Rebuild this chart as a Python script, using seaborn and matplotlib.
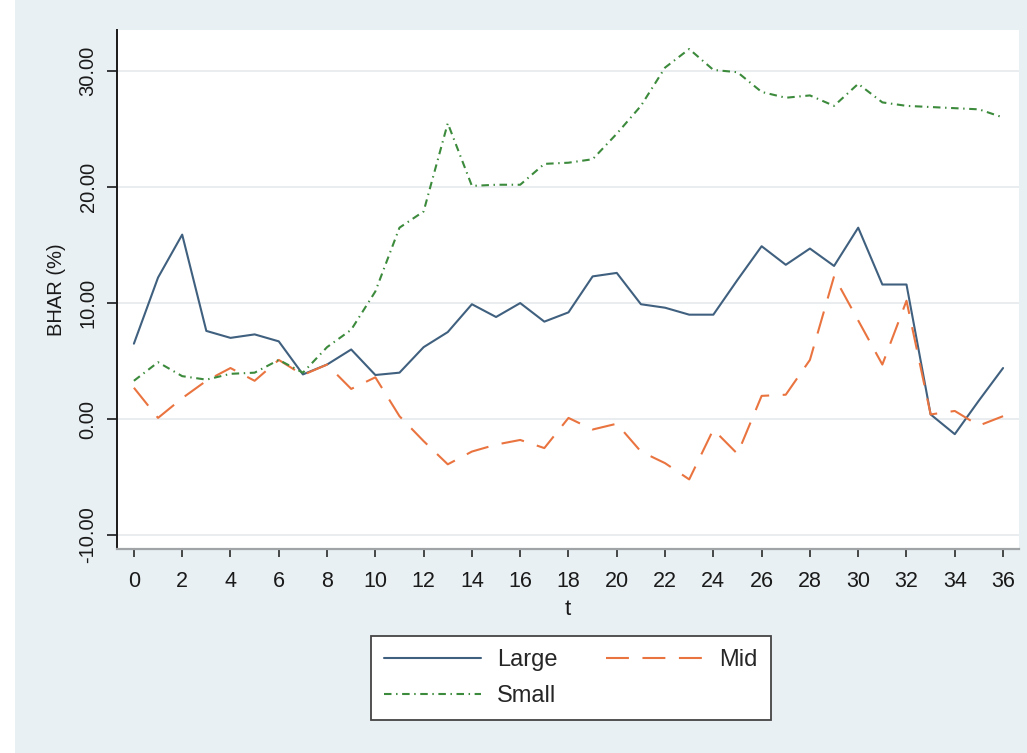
import numpy as np
import pandas as pd
import matplotlib
matplotlib.use("Agg")
import matplotlib.pyplot as plt
from matplotlib.patches import Rectangle
import seaborn as sns

# Event month
t = list(range(37))

# Buy-and-hold abnormal returns (%) by size group
large = [6.5, 12.2, 15.9, 7.6, 7.0, 7.3, 6.7, 3.85, 4.7, 6.0, 3.8, 4.0, 6.2,
         7.5, 9.9, 8.8, 10.0, 8.4, 9.2, 12.3, 12.6, 9.9, 9.6, 9.0, 9.0, 12.0,
         14.9, 13.3, 14.7, 13.2, 16.5, 11.6, 11.6, 0.4, -1.3, 1.6, 4.4]
mid = [2.7, 0.1, 1.8, 3.3, 4.4, 3.3, 5.1, 3.8, 4.7, 2.6, 3.6, 0.25, -1.9,
       -3.9, -2.8, -2.2, -1.8, -2.5, 0.1, -0.9, -0.4, -2.8, -3.8, -5.2, -0.9,
       -3.0, 2.0, 2.1, 5.1, 12.3, 8.5, 4.7, 10.2, 0.4, 0.7, -0.56, 0.25]
small = [3.3, 4.9, 3.7, 3.4, 3.9, 4.0, 5.1, 4.0, 6.2, 7.7, 11.0, 16.5, 17.9,
         25.5, 20.1, 20.2, 20.2, 22.0, 22.1, 22.4, 24.6, 27.0, 30.3, 31.9,
         30.1, 29.9, 28.2, 27.7, 27.9, 27.0, 28.9, 27.3, 27.0, 26.9, 26.8,
         26.7, 26.0]

groups = ["Large", "Mid", "Small"]
x_ticks = list(range(0, 37, 2))
y_ticks = [-10, 0, 10, 20, 30]

df = pd.DataFrame({
    "t": t * 3,
    "BHAR": large + mid + small,
    "group": ["Large"] * len(t) + ["Mid"] * len(t) + ["Small"] * len(t),
})

sns.set_style("white")
plt.rcParams["font.family"] = ["Liberation Sans", "DejaVu Sans"]

bg = "#e9f0f3"
ink = "#1a1a1a"
fig = plt.figure(figsize=(10.27, 7.53), dpi=100, facecolor="white")
fig.patches.append(Rectangle((15 / 1027, 0), 1, 1, transform=fig.transFigure,
                             facecolor=bg, edgecolor="none", zorder=-10))

ax = fig.add_axes([117 / 1027, 1 - 549 / 753, 902 / 1027, 519 / 753])
ax.set_facecolor("white")

palette = {"Large": "#40607f", "Mid": "#ea7440", "Small": "#3c8a3c"}
dashes = {"Large": "", "Mid": (11, 6.5), "Small": (3.6, 2.2, 0.7, 2.2)}
lw = 1.5

sns.lineplot(data=df, x="t", y="BHAR", hue="group", style="group",
             hue_order=groups, style_order=groups, palette=palette,
             dashes=dashes, linewidth=lw, ax=ax, legend=True)

ax.set_xlim(-0.70, 36.66)
ax.set_ylim(-11.2, 33.54)
ax.set_xticks(x_ticks)
ax.set_xticklabels([str(v) for v in x_ticks], fontsize=15.5)
ax.set_yticks(y_ticks)
ax.set_yticklabels([f"{v:.2f}" for v in y_ticks], fontsize=14.5,
                   rotation=90, va="center")

ax.grid(axis="y", color="#e6eaec", linewidth=1.2)
ax.grid(axis="x", visible=False)
for side in ("top", "right"):
    ax.spines[side].set_visible(False)
ax.spines["left"].set_color(ink)
ax.spines["left"].set_linewidth(1.4)
ax.spines["bottom"].set_color("#a0a4a6")
ax.spines["bottom"].set_linewidth(1.6)
ax.tick_params(axis="y", length=7, width=1.2, color=ink, pad=7,
               left=True, labelcolor=ink)
ax.tick_params(axis="x", length=5.5, width=1.2, color="#2a2a2a", pad=10,
               bottom=True, labelcolor=ink)

ax.set_xlabel("t", fontsize=16, color=ink)
ax.xaxis.set_label_coords(0.5, -0.097)
ax.set_ylabel("BHAR (%)", fontsize=14.5, color=ink)
ax.yaxis.set_label_coords(-0.057, 0.5)

handles, labels = ax.get_legend_handles_labels()
ax.legend_.remove()
lookup = dict(zip(labels, handles))
order = ["Large", "Small", "Mid"]
leg = fig.legend([lookup[k] for k in order], order, ncol=2,
                 loc="upper left", bbox_to_anchor=(371 / 1027, 1 - 636 / 753),
                 fontsize=17, frameon=True, fancybox=False, edgecolor="#444444",
                 facecolor="white", framealpha=1, handlelength=4.1,
                 handletextpad=0.7, columnspacing=2.05, labelspacing=0.6,
                 borderpad=0.55, borderaxespad=0)
leg.get_frame().set_linewidth(1.3)
for h in leg.get_lines():
    h.set_linewidth(lw)

fig.savefig("out.png", dpi=100, facecolor=fig.get_facecolor())
